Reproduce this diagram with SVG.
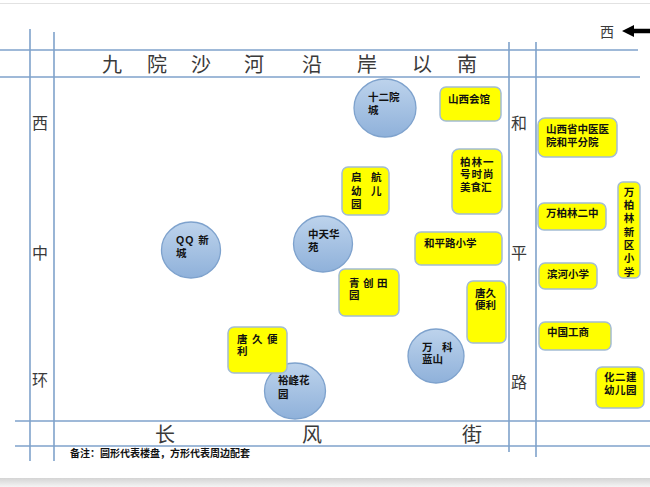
<svg xmlns="http://www.w3.org/2000/svg" width="650" height="487" viewBox="0 0 650 487">
<defs>
<linearGradient id="ball" x1="0" y1="0" x2="0" y2="1">
<stop offset="0" stop-color="#bdd3ec"/>
<stop offset="1" stop-color="#8fb1da"/>
</linearGradient>
<linearGradient id="shadow" x1="0" y1="0" x2="0" y2="1">
<stop offset="0" stop-color="#d4d4d4"/>
<stop offset="1" stop-color="#f4f4f4"/>
</linearGradient>
</defs>
<style>
.road{stroke:#7fa2cb;stroke-width:1.6;fill:none}
.rt{font-family:"Liberation Sans","Noto Sans CJK SC","Noto Sans CJK JP",sans-serif;font-size:20px;fill:#3a3a3a;text-anchor:middle}
.rs{font-family:"Liberation Sans","Noto Sans CJK SC","Noto Sans CJK JP",sans-serif;font-size:16px;fill:#3a3a3a;text-anchor:middle}
.box{fill:#ffff00;stroke:#a3bcd4;stroke-width:1.5}
.ball{fill:url(#ball);stroke:#7ea2cd;stroke-width:1.3}
.t{font-family:"Liberation Sans","Noto Sans CJK SC","Noto Sans CJK JP",sans-serif;font-size:10.5px;font-weight:bold;fill:#111}
.v{font-family:"Noto Sans CJK SC","Noto Sans CJK JP",sans-serif;font-size:10.5px;font-weight:bold;fill:#111;writing-mode:vertical-rl;letter-spacing:2.8px}
.note{font-family:"Liberation Sans","Noto Sans CJK SC","Noto Sans CJK JP",sans-serif;font-size:10px;font-weight:bold;fill:#111}
</style>
<rect x="0" y="0" width="650" height="487" fill="#ffffff"/>
<line x1="0" y1="3.5" x2="650" y2="3.5" stroke="#e2e2e2" stroke-width="1"/>
<rect x="0" y="478" width="650" height="9" fill="url(#shadow)"/>

<g id="roads">
<line class="road" x1="0" y1="50" x2="638" y2="50"/>
<line class="road" x1="0" y1="77" x2="640" y2="77"/>
<line class="road" x1="15" y1="421" x2="650" y2="421"/>
<line class="road" x1="15" y1="446" x2="650" y2="446"/>
<line class="road" x1="30" y1="29" x2="30" y2="461"/>
<line class="road" x1="54" y1="32" x2="54" y2="461"/>
<line class="road" x1="509" y1="42" x2="509" y2="452"/>
<line class="road" x1="536" y1="42" x2="536" y2="457"/>
</g>

<g id="road-labels">
<text class="rt" x="112" y="72">九</text>
<text class="rt" x="157" y="72">院</text>
<text class="rt" x="201" y="72">沙</text>
<text class="rt" x="254" y="72">河</text>
<text class="rt" x="312" y="72">沿</text>
<text class="rt" x="367" y="72">岸</text>
<text class="rt" x="422" y="72">以</text>
<text class="rt" x="467" y="72">南</text>
<text class="rs" x="40" y="129">西</text>
<text class="rs" x="40" y="259">中</text>
<text class="rs" x="40" y="386">环</text>
<text class="rs" x="519" y="129">和</text>
<text class="rs" x="519" y="259">平</text>
<text class="rs" x="519" y="388">路</text>
<text class="rt" x="165" y="442">长</text>
<text class="rt" x="312" y="442">风</text>
<text class="rt" x="472" y="442">街</text>
<text class="rs" x="607" y="37" style="font-size:14px">西</text>
<polygon points="622,31 634,25 634,28.8 650,28.8 650,33.2 634,33.2 634,37" fill="#000"/>
</g>

<g id="n-shiyuancheng"><ellipse class="ball" cx="385" cy="108" rx="31" ry="29"/><text class="t"><tspan x="368" y="101">十二院</tspan><tspan x="368" y="114">城</tspan></text></g>
<g id="n-qq"><ellipse class="ball" cx="191" cy="250" rx="29.5" ry="28"/><text class="t" letter-spacing="1"><tspan x="176" y="244">QQ 新</tspan><tspan x="176" y="257">城</tspan></text></g>
<g id="n-zhongtian"><ellipse class="ball" cx="323" cy="244" rx="29.5" ry="28"/><text class="t"><tspan x="308" y="238">中天华</tspan><tspan x="308" y="251">苑</tspan></text></g>
<g id="n-yufeng"><ellipse class="ball" cx="295" cy="391" rx="30.5" ry="28"/><text class="t"><tspan x="278" y="384">裕峰花</tspan><tspan x="278" y="398">园</tspan></text></g>
<g id="n-vanke"><ellipse class="ball" cx="436" cy="356" rx="28" ry="27"/><text class="t"><tspan x="422" y="351" letter-spacing="9.5">万科</tspan><tspan x="422" y="363">蓝山</tspan></text></g>

<g id="n-shanxihuiguan"><rect class="box" x="440" y="87" width="61" height="34" rx="6"/><text class="t" x="448" y="103">山西会馆</text></g>
<g id="n-qihang"><rect class="box" x="342" y="167" width="47" height="48" rx="6"/><text class="t" letter-spacing="9.5"><tspan x="351" y="181">启航</tspan><tspan x="351" y="195">幼儿</tspan><tspan x="351" y="208">园</tspan></text></g>
<g id="n-bolin1"><rect class="box" x="452" y="149" width="50" height="65" rx="7"/><text class="t" letter-spacing="1"><tspan x="460" y="166">柏林一</tspan><tspan x="460" y="178">号时尚</tspan><tspan x="460" y="191" letter-spacing="0">美食汇</tspan></text></g>
<g id="n-hepinglu"><rect class="box" x="415" y="232" width="87" height="33" rx="6"/><text class="t" x="424" y="247">和平路小学</text></g>
<g id="n-qingchuang"><rect class="box" x="339" y="269" width="60" height="47" rx="6"/><text class="t"><tspan x="349" y="287" letter-spacing="3.5">青创田</tspan><tspan x="349" y="299">园</tspan></text></g>
<g id="n-tangjiu-r"><rect class="box" x="467" y="281" width="39" height="62" rx="6"/><text class="t"><tspan x="475" y="297">唐久</tspan><tspan x="475" y="309">便利</tspan></text></g>
<g id="n-tangjiu-l"><rect class="box" x="228" y="327" width="59" height="46" rx="6"/><text class="t"><tspan x="237" y="343" letter-spacing="4.5">唐久便</tspan><tspan x="237" y="355">利</tspan></text></g>
<g id="n-zhongyiyuan"><rect class="box" x="538" y="118" width="79" height="39" rx="7"/><text class="t"><tspan x="546" y="133">山西省中医医</tspan><tspan x="546" y="146">院和平分院</tspan></text></g>
<g id="n-erzhong"><rect class="box" x="538" y="203" width="68" height="27" rx="6"/><text class="t" x="546" y="217">万柏林二中</text></g>
<g id="n-xinqu"><rect class="box" x="618" y="182" width="22" height="96" rx="5"/><text class="v" x="629" y="186.5">万柏林新区小学</text></g>
<g id="n-binhe"><rect class="box" x="539" y="263" width="58" height="26" rx="6"/><text class="t" x="547" y="278">滨河小学</text></g>
<g id="n-icbc"><rect class="box" x="539" y="322" width="72" height="28" rx="6"/><text class="t" x="547" y="336">中国工商</text></g>
<g id="n-huajian"><rect class="box" x="596" y="367" width="48" height="41" rx="6"/><text class="t" letter-spacing="0.5"><tspan x="604" y="381">化二建</tspan><tspan x="604" y="394">幼儿园</tspan></text></g>

<text class="note" x="70" y="457">备注：圆形代表楼盘，方形代表周边配套</text>
</svg>
